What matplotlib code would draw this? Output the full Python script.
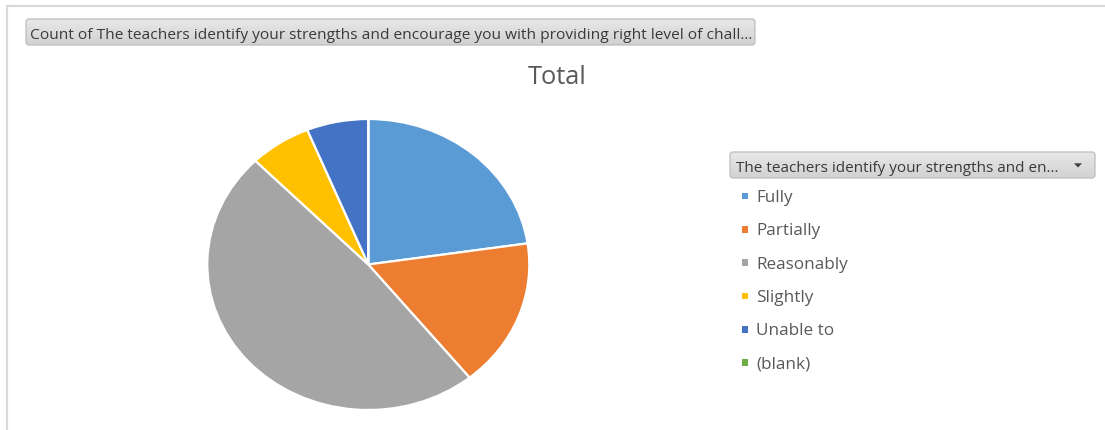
import matplotlib
matplotlib.use("Agg")
import matplotlib.pyplot as plt
import numpy as np
from matplotlib.patches import FancyBboxPatch, Rectangle, Polygon

# ---- data ----
categories = ["Fully", "Partially", "Reasonably", "Slightly", "Unable to", "(blank)"]
counts = [22, 16, 47, 6, 6, 0]
colors = ["#5B9BD5", "#ED7D31", "#A5A5A5", "#FFC000", "#4472C4", "#70AD47"]
chart_title = "Total"
field_button = "Count of The teachers identify your strengths and encourage you with providing right level of chall..."
legend_button = "The teachers identify your strengths and en..."

W, H = 1105, 430
fig = plt.figure(figsize=(W / 100, H / 100), dpi=100)
fig.patch.set_facecolor("white")

FONT = ["Open Sans", "DejaVu Sans"]

# ---- pie axes (slightly elliptical like the reference) ----
cx, cy, rx, ry = 368.3, 264.5, 161, 145.5
pax = fig.add_axes([(cx - rx) / W, (H - cy - ry) / H, 2 * rx / W, 2 * ry / H])
pax.pie(counts, colors=colors, startangle=90, counterclock=False, radius=1,
        wedgeprops=dict(edgecolor="white", linewidth=1.6))
pax.set_aspect("auto")
pax.set_xlim(-1, 1)
pax.set_ylim(-1, 1)
pax.axis("off")

# ---- overlay axes in pixel coords ----
ov = fig.add_axes([0, 0, 1, 1], zorder=5)
ov.set_xlim(0, W)
ov.set_ylim(H, 0)
ov.axis("off")
ov.patch.set_alpha(0)

# frame lines
ov.plot([6, W], [5.8, 5.8], color="#D9D9D9", lw=1.6, solid_capstyle="butt")
ov.plot([7, 7], [5, H], color="#D9D9D9", lw=1.6, solid_capstyle="butt")

renderer = fig.canvas.get_renderer()


def fit_text(x, y, s, width, size0=11, **kw):
    t = ov.text(x, y, s, fontsize=size0, family=FONT, **kw)
    w = t.get_window_extent(renderer).width
    t.set_fontsize(size0 * width / w)
    return t


def button(x0, y0, x1, y1):
    box = FancyBboxPatch((x0, y0), x1 - x0, y1 - y0,
                         boxstyle="round,pad=0,rounding_size=3",
                         facecolor="none", edgecolor="#BDBDBD", lw=0.9, zorder=3)
    ov.add_patch(box)
    grad = np.linspace(0, 1, 64).reshape(-1, 1)
    top = np.array([0.91, 0.91, 0.91])
    bot = np.array([0.82, 0.82, 0.82])
    img = top + (bot - top) * grad[..., None] * np.ones((1, 2, 1))
    im = ov.imshow(img, extent=(x0, x1, y1, y0), aspect="auto", zorder=2,
                   interpolation="bilinear")
    clip = FancyBboxPatch((x0, y0), x1 - x0, y1 - y0,
                          boxstyle="round,pad=0,rounding_size=3",
                          facecolor="none", edgecolor="none",
                          transform=ov.transData)
    im.set_clip_path(clip)


# top field button
button(26, 19, 755, 45)
fit_text(29.5, 39.0, field_button, 721, color="#3A3A3A", va="baseline", zorder=4)

# chart title
t = fit_text(528, 84, chart_title, 59, size0=15, color="#595959", va="baseline")

# legend header button
button(730, 152, 1095, 178)
fit_text(736.5, 172, legend_button, 321, color="#3A3A3A", va="baseline", zorder=4)
ov.add_patch(Polygon([[1074, 163.3], [1082, 163.3], [1078, 167.5]], closed=True,
                     facecolor="#404040", edgecolor="none", zorder=4))

# legend items
y0, dy = 196, 33.33
ref = ov.text(0, 0, "Reasonably", fontsize=12, family=FONT)
rw = ref.get_window_extent(renderer).width
ref.remove()
lsize = 12 * 91 / rw
for i, (lab, col) in enumerate(zip(categories, colors)):
    yy = y0 + i * dy
    ov.add_patch(Rectangle((741.5, yy - 3.3), 6.5, 6.5, facecolor=col, edgecolor="none"))
    ov.text(756, yy + 6.0, lab, fontsize=lsize, family=FONT, color="#595959",
            va="baseline")

fig.savefig("out.png", dpi=100)
